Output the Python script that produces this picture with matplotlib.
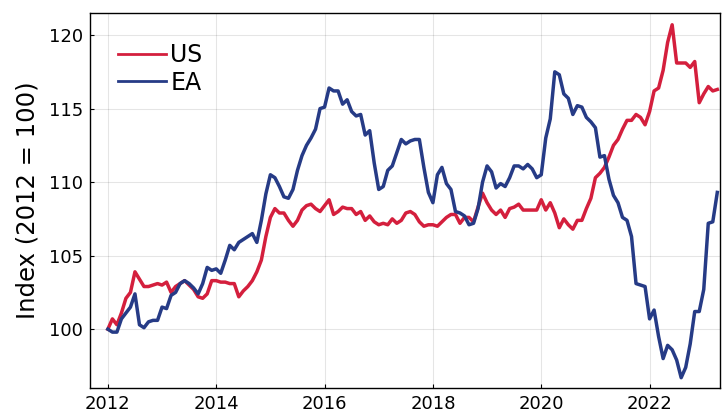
import matplotlib
matplotlib.use("Agg")
import matplotlib.pyplot as plt
import numpy as np

# monthly index values, Jan 2012 .. Apr 2023 (2012 = 100)
start_year = 2012
us = [
    100.0, 100.7, 100.3, 101.1, 102.1, 102.5, 103.9, 103.4, 102.9, 102.9, 103.0, 103.1,
    103.0, 103.2, 102.5, 102.9, 103.1, 103.3, 103.0, 102.7, 102.2, 102.1, 102.4, 103.3,
    103.3, 103.2, 103.2, 103.1, 103.1, 102.2, 102.6, 102.9, 103.3, 103.9, 104.7, 106.3,
    107.6, 108.2, 107.9, 107.9, 107.4, 107.0, 107.4, 108.1, 108.4, 108.5, 108.2, 108.0,
    108.4, 108.8, 107.8, 108.0, 108.3, 108.2, 108.2, 107.8, 108.0, 107.4, 107.7, 107.3,
    107.1, 107.2, 107.1, 107.5, 107.2, 107.4, 107.9, 108.0, 107.8, 107.3, 107.0, 107.1,
    107.1, 107.0, 107.3, 107.6, 107.8, 107.8, 107.2, 107.6, 107.6, 107.3, 108.3, 109.25,
    108.6, 108.1, 107.8, 108.1, 107.6, 108.2, 108.3, 108.5, 108.1, 108.1, 108.1, 108.1,
    108.8, 108.1, 108.6, 107.9, 106.9, 107.5, 107.1, 106.8, 107.4, 107.4, 108.2, 108.9,
    110.3, 110.6, 111.0, 111.7, 112.5, 112.9, 113.6, 114.2, 114.2, 114.6, 114.4, 113.9,
    114.8, 116.2, 116.4, 117.6, 119.5, 120.7, 118.1, 118.1, 118.1, 117.8, 118.2, 115.4,
    116.0, 116.5, 116.2, 116.3,
]
ea = [
    100.0, 99.8, 99.8, 100.7, 101.1, 101.5, 102.4, 100.3, 100.1, 100.5, 100.6, 100.6,
    101.5, 101.4, 102.3, 102.5, 103.1, 103.3, 103.1, 102.8, 102.4, 103.1, 104.2, 104.0,
    104.1, 103.8, 104.7, 105.7, 105.4, 105.9, 106.1, 106.3, 106.5, 105.9, 107.4, 109.2,
    110.5, 110.3, 109.7, 109.0, 108.9, 109.5, 110.8, 111.8, 112.5, 113.0, 113.6, 115.0,
    115.1, 116.4, 116.2, 116.2, 115.3, 115.6, 114.8, 114.5, 114.6, 113.2, 113.5, 111.3,
    109.5, 109.7, 110.8, 111.1, 112.0, 112.9, 112.6, 112.8, 112.9, 112.9, 111.0, 109.3,
    108.6, 110.5, 111.0, 109.9, 109.5, 108.0, 107.9, 107.7, 107.1, 107.2, 108.2, 110.0,
    111.1, 110.7, 109.6, 109.9, 109.7, 110.3, 111.1, 111.1, 110.9, 111.2, 110.9, 110.3,
    110.5, 113.0, 114.3, 117.5, 117.3, 116.0, 115.7, 114.6, 115.2, 115.1, 114.4, 114.1,
    113.7, 111.7, 111.8, 110.2, 109.1, 108.6, 107.6, 107.4, 106.3, 103.1, 103.0, 102.9,
    100.7, 101.3, 99.5, 98.0, 98.9, 98.6, 97.9, 96.7, 97.4, 99.0, 101.2, 101.2,
    102.7, 107.2, 107.3, 109.3,
]
x_ticks = [2012, 2014, 2016, 2018, 2020, 2022]
y_ticks = [100, 105, 110, 115, 120]

t = start_year + np.arange(len(us)) / 12

fig = plt.figure(figsize=(7.28, 4.13), dpi=100)
ax = fig.add_axes([90 / 728, 25 / 413, 630 / 728, 375 / 413])

ax.plot(t, us, color="#d41f3d", lw=2.5, label="US")
ax.plot(t, ea, color="#263b86", lw=2.5, label="EA")

ax.set_xlim(2011.67, 2023.3)
ax.set_ylim(96.0, 121.5)
ax.set_xticks(x_ticks)
ax.set_yticks(y_ticks)
ax.grid(True, color="#000000", alpha=0.1, lw=0.8)
ax.tick_params(direction="in", length=3, labelsize=13, pad=5)
for s in ax.spines.values():
    s.set_linewidth(1.0)
ax.set_ylabel("Index (2012 = 100)", fontsize=17.5, labelpad=7)

leg = ax.legend(loc="upper left", frameon=False, fontsize=17, handlelength=2.0,
                handletextpad=0.2, labelspacing=0.15, borderaxespad=0.0,
                bbox_to_anchor=(0.03, 0.945))
for line in leg.get_lines():
    line.set_linewidth(2.0)

fig.savefig("out.png", dpi=100)
